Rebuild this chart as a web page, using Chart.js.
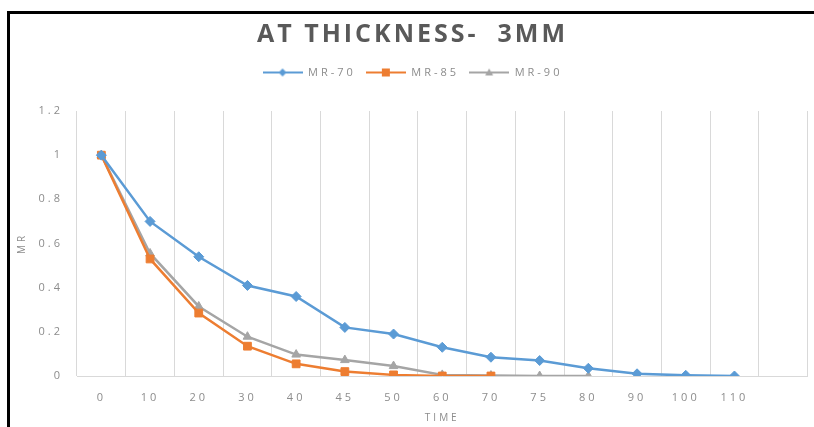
<!DOCTYPE html>
<html>
<head>
<meta charset="utf-8">
<script src="https://cdn.jsdelivr.net/npm/chart.js@4/dist/chart.umd.min.js"></script>
<style>
  html, body { margin: 0; padding: 0; background: #fff; }
  #frame {
    position: absolute; left: 7px; top: 11px;
    width: 807px; height: 416px;
    box-sizing: border-box;
    border-top: 3px solid #000; border-left: 3px solid #000;
  }
  #chart { display: block; }
</style>
</head>
<body>
<div id="frame"><canvas id="chart" width="804" height="413"></canvas></div>
<script>
// Drying time (min) and moisture ratio for three temperatures
const timeLabels = ["0", "10", "20", "30", "40", "45", "50", "60", "70", "75", "80", "90", "100", "110", ""];
const mr70 = [1, 0.70, 0.54, 0.41, 0.36, 0.22, 0.19, 0.13, 0.085, 0.07, 0.035, 0.01, 0.003, 0, null];
const mr85 = [1, 0.53, 0.285, 0.135, 0.055, 0.02, 0.005, 0, 0, null, null, null, null, null, null];
const mr90 = [1, 0.555, 0.315, 0.178, 0.097, 0.072, 0.045, 0.005, 0.002, 0, 0, null, null, null, null];
const yTicks = [0, 0.2, 0.4, 0.6, 0.8, 1, 1.2];

const BLUE = "#5b9bd5", ORANGE = "#ed7d31", GRAY = "#a5a5a5";
const TEXT = "#8c8c8c", GRID = "#d9d9d9";
const SPACING = "3px";

// Small legend swatch: a line with the series marker on it
function swatch(color, style) {
  const c = document.createElement("canvas");
  c.width = 40; c.height = 12;
  const g = c.getContext("2d");
  g.strokeStyle = color; g.fillStyle = color; g.lineWidth = 2;
  g.beginPath(); g.moveTo(0, 6); g.lineTo(40, 6); g.stroke();
  g.beginPath();
  if (style === "rectRot") { g.moveTo(20, 2); g.lineTo(24, 6); g.lineTo(20, 10); g.lineTo(16, 6); }
  else if (style === "rect") { g.rect(16, 2, 8, 8); }
  else { g.moveTo(20, 2); g.lineTo(24, 9); g.lineTo(16, 9); }
  g.closePath(); g.fill();
  return c;
}

const series = [
  { label: "MR-70", data: mr70, color: BLUE, style: "rectRot", r: 5 },
  { label: "MR-85", data: mr85, color: ORANGE, style: "rect", r: 5.5 },
  { label: "MR-90", data: mr90, color: GRAY, style: "triangle", r: 5 }
];

// Wide letter spacing for all chart text
const letterSpacing = {
  id: "letterSpacing",
  beforeUpdate(chart) { chart.ctx.letterSpacing = SPACING; },
  beforeLayout(chart) { chart.ctx.letterSpacing = SPACING; },
  beforeDraw(chart) { chart.ctx.letterSpacing = SPACING; }
};

// Extra room between the legend and the plot
const legendGap = {
  id: "legendGap",
  beforeInit(chart) {
    const fit = chart.legend.fit;
    chart.legend.fit = function () { fit.call(this); this.height += 23; };
  }
};

new Chart(document.getElementById("chart"), {
  type: "line",
  data: {
    labels: timeLabels,
    datasets: series.map(s => ({
      label: s.label,
      data: s.data,
      borderColor: s.color,
      backgroundColor: s.color,
      borderWidth: 2.5,
      pointStyle: s.style,
      pointRadius: s.r,
      pointBorderWidth: 1,
      tension: 0,
      spanGaps: false
    }))
  },
  plugins: [letterSpacing, legendGap],
  options: {
    responsive: false,
    animation: false,
    layout: { padding: { left: 2, right: 1, top: 2, bottom: 0 } },
    plugins: {
      title: {
        display: true,
        text: "AT THICKNESS-  3MM",
        color: "#595959",
        font: { family: "Open Sans", size: 25, weight: "bold" },
        padding: { top: 4, bottom: 7 }
      },
      legend: {
        position: "top",
        labels: {
          color: TEXT,
          font: { family: "Open Sans", size: 11 },
          boxWidth: 40,
          pointStyleWidth: 40,
          padding: 10,
          usePointStyle: true,
          generateLabels: chart => series.map((s, i) => ({
            text: s.label,
            pointStyle: swatch(s.color, s.style),
            fontColor: TEXT,
            datasetIndex: i
          }))
        }
      },
      tooltip: { enabled: false }
    },
    scales: {
      x: {
        offset: true,
        afterFit: axis => { axis.height = 51; },
        grid: { display: true, offset: true, color: GRID, drawTicks: false },
        border: { display: true, color: GRID },
        ticks: { color: TEXT, font: { family: "Open Sans", size: 11 }, padding: 15, maxRotation: 0, autoSkip: false },
        title: { display: true, text: "TIME", color: TEXT, font: { family: "Open Sans", size: 10 }, padding: { top: 0, bottom: 3 } }
      },
      y: {
        min: 0, max: 1.2,
        afterBuildTicks: axis => { axis.ticks = yTicks.map(v => ({ value: v })); },
        afterFit: axis => { axis.width = 65; },
        grid: { display: false, drawTicks: false },
        border: { display: false },
        ticks: { color: TEXT, font: { family: "Open Sans", size: 11 }, padding: 14, callback: v => String(Math.round(v * 10) / 10) },
        title: { display: true, text: "MR", color: TEXT, font: { family: "Open Sans", size: 10 }, padding: { top: 4, bottom: 4 } }
      }
    }
  }
});
</script>
</body>
</html>
